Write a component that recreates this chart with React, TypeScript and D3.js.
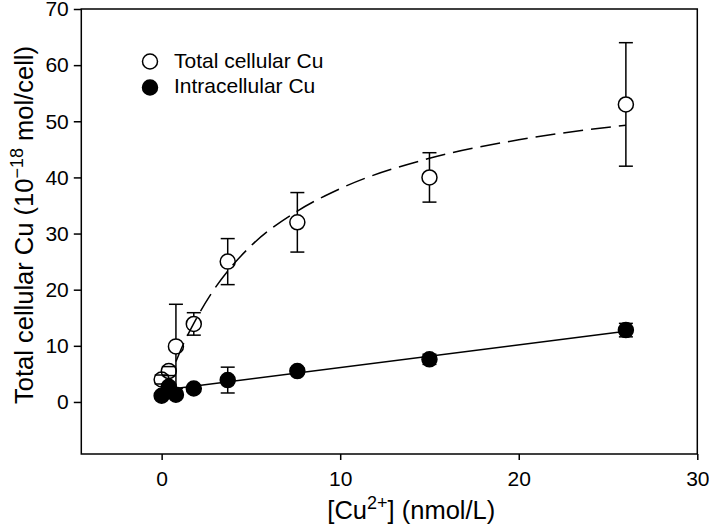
import { useEffect, useRef } from "react";
import * as d3 from "d3";

// [Cu2+] concentrations (nmol/L)
const xVals = [0, 0.4, 0.8, 1.8, 3.7, 7.6, 15, 26];
// total cellular Cu (open circles)
const totalCu = [4.0, 5.5, 9.9, 13.9, 25.0, 32.0, 40.0, 53.0];
const totalErr = [0.8, 0.8, 7.5, 2.0, 4.1, 5.3, 4.4, 11.0];
// intracellular Cu (filled circles)
const intraCu = [1.1, 2.7, 1.3, 2.4, 3.9, 5.5, 7.6, 12.8];
const intraErr = [0.3, 0.5, 0.3, 0.4, 2.3, 0.6, 0.9, 1.2];
// fitted curves
const totalFitX = [0.8, 1.2, 1.8, 2.8, 3.7, 5, 7.6, 10, 15, 20, 26];
const totalFitY = [7.2, 10.2, 14.0, 19.4, 23.3, 27.8, 34.0, 38.0, 43.4, 46.7, 49.3];
const intraFitX = [0, 26];
const intraFitY = [2.1, 12.6];

const xTicks = [0, 10, 20, 30];
const yTicks = [0, 10, 20, 30, 40, 50, 60, 70];

export default function App() {
  const svgRef = useRef<SVGSVGElement | null>(null);
  const width = 709;
  const height = 526;
  const font = "'Liberation Sans', Arial, sans-serif";

  const renderChart = () => {
    const left = 81.3;
    const right = 697.3;
    const top = 9;
    const bottom = 454;

    const x = d3.scaleLinear().domain([-4.5, 30]).range([left, right]);
    const y = d3.scaleLinear().domain([-9.27, 70]).range([bottom, top]);

    const svg = d3.select(svgRef.current);
    svg.selectAll("*").remove();

    // frame
    svg
      .append("rect")
      .attr("x", left)
      .attr("y", top)
      .attr("width", right - left)
      .attr("height", bottom - top)
      .attr("fill", "none")
      .attr("stroke", "#000")
      .attr("stroke-width", 1.5);

    // x axis
    const xAxis = svg
      .append("g")
      .attr("transform", `translate(0,${bottom})`)
      .call(d3.axisBottom(x).tickValues(xTicks).tickSize(6).tickPadding(11).tickFormat(d3.format("d")));
    xAxis.select(".domain").remove();
    xAxis.selectAll("line").attr("stroke-width", 1.5);
    xAxis.selectAll("text").attr("font-size", 21).attr("font-family", font).attr("fill", "#000");

    // y axis
    const yAxis = svg
      .append("g")
      .attr("transform", `translate(${left},0)`)
      .call(d3.axisLeft(y).tickValues(yTicks).tickSize(7.5).tickPadding(5).tickFormat(d3.format("d")));
    yAxis.select(".domain").remove();
    yAxis.selectAll("line").attr("stroke-width", 1.5);
    yAxis.selectAll("text").attr("font-size", 21).attr("font-family", font).attr("fill", "#000");

    // fit lines
    const line = d3
      .line<[number, number]>()
      .x((d) => x(d[0]))
      .y((d) => y(d[1]))
      .curve(d3.curveMonotoneX);

    svg
      .append("path")
      .attr("d", line(totalFitX.map((v, i) => [v, totalFitY[i]]) as [number, number][]))
      .attr("fill", "none")
      .attr("stroke", "#000")
      .attr("stroke-width", 1.5)
      .attr("stroke-dasharray", "20 8");

    svg
      .append("path")
      .attr("d", line(intraFitX.map((v, i) => [v, intraFitY[i]]) as [number, number][]))
      .attr("fill", "none")
      .attr("stroke", "#000")
      .attr("stroke-width", 1.5);

    const r = 7.5;
    const cap = 7;

    const drawSeries = (vals: number[], errs: number[], filled: boolean) => {
      const g = svg.append("g");
      vals.forEach((v, i) => {
        const cx = x(xVals[i]);
        const cy = y(v);
        const yHi = y(v + errs[i]);
        const yLo = y(v - errs[i]);
        if (cy - yHi > r) {
          g.append("line").attr("x1", cx).attr("x2", cx).attr("y1", yHi).attr("y2", cy - r);
        }
        if (yLo - cy > r) {
          g.append("line").attr("x1", cx).attr("x2", cx).attr("y1", cy + r).attr("y2", yLo);
        }
        g.append("line").attr("x1", cx - cap).attr("x2", cx + cap).attr("y1", yHi).attr("y2", yHi);
        g.append("line").attr("x1", cx - cap).attr("x2", cx + cap).attr("y1", yLo).attr("y2", yLo);
      });
      g.selectAll("line").attr("stroke", "#000").attr("stroke-width", 1.5);

      g.selectAll("circle.pt")
        .data(vals)
        .enter()
        .append("circle")
        .attr("class", "pt")
        .attr("cx", (_, i) => x(xVals[i]))
        .attr("cy", (d) => y(d))
        .attr("r", r)
        .attr("fill", filled ? "#000" : "none")
        .attr("stroke", "#000")
        .attr("stroke-width", 1.5);
    };

    drawSeries(totalCu, totalErr, false);
    drawSeries(intraCu, intraErr, true);

    // legend
    const legend = svg.append("g").attr("font-family", font).attr("font-size", 21);
    const items = [
      { label: "Total cellular Cu", filled: false, cy: 61.5, ty: 68.3 },
      { label: "Intracellular Cu", filled: true, cy: 87.5, ty: 93.3 },
    ];
    items.forEach((it) => {
      legend
        .append("circle")
        .attr("cx", 150)
        .attr("cy", it.cy)
        .attr("r", r)
        .attr("fill", it.filled ? "#000" : "#fff")
        .attr("stroke", "#000")
        .attr("stroke-width", 1.5);
      legend.append("text").attr("x", 174).attr("y", it.ty).text(it.label);
    });

    // x axis title
    const xt = svg
      .append("text")
      .attr("x", (left + right) / 2 + 22)
      .attr("y", 519)
      .attr("text-anchor", "middle")
      .attr("font-family", font)
      .attr("font-size", 25.5);
    xt.append("tspan").text("[Cu");
    xt.append("tspan").attr("dy", -10).attr("font-size", 18).text("2+");
    xt.append("tspan").attr("dy", 10).text("] (nmol/L)");

    // y axis title
    const yt = svg
      .append("text")
      .attr("transform", `translate(33,225) rotate(-90)`)
      .attr("text-anchor", "middle")
      .attr("font-family", font)
      .attr("font-size", 25.5);
    yt.append("tspan").text("Total cellular Cu (10");
    yt.append("tspan").attr("dy", -10).attr("font-size", 18).text("\u221218");
    yt.append("tspan").attr("dy", 10).text(" mol/cell)");
  };

  useEffect(() => {
    renderChart();
  }, []);

  return (
    <svg
      ref={svgRef}
      width={width}
      height={height}
      style={{ position: "absolute", left: 0, top: 0, background: "#fff" }}
    />
  );
}
